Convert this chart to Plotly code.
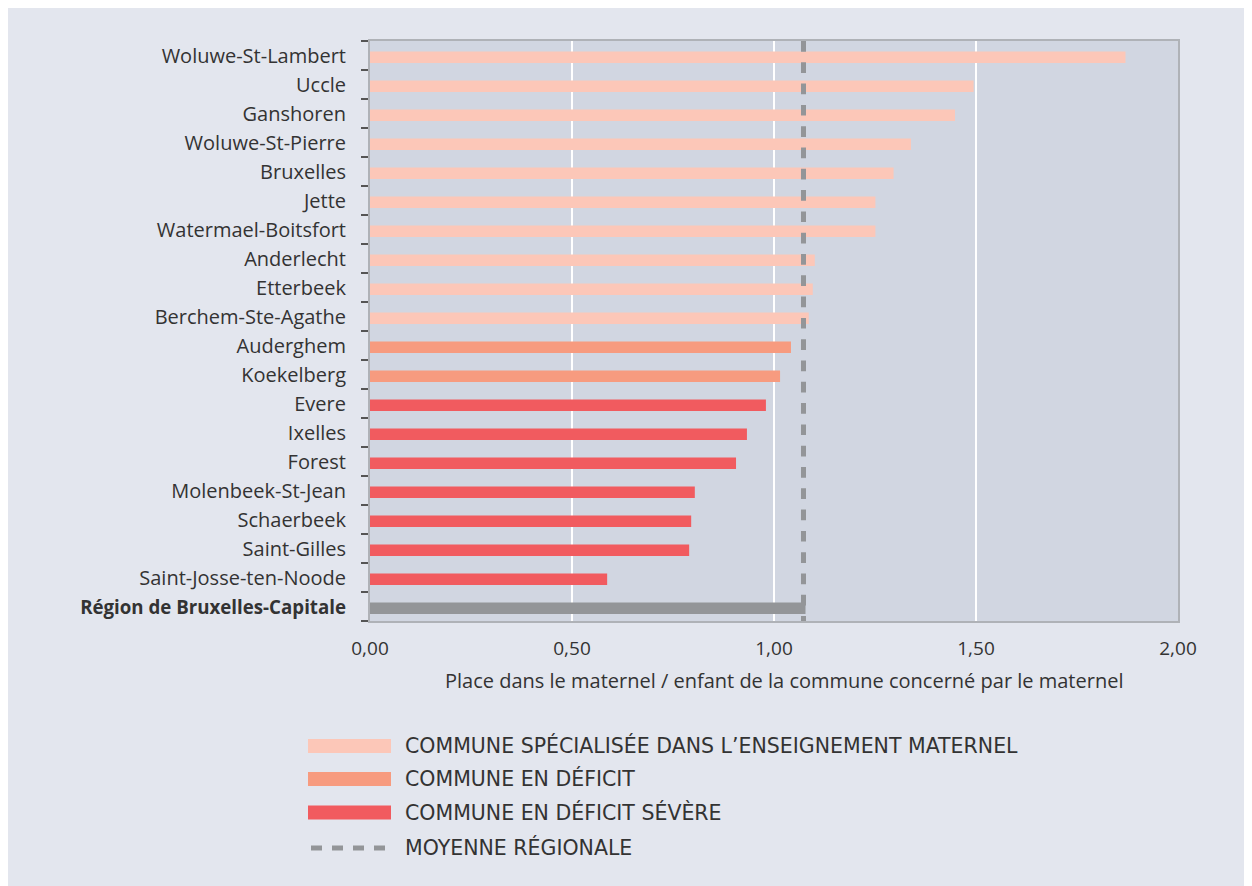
import plotly.graph_objects as go

communes = [
    "Woluwe-St-Lambert", "Uccle", "Ganshoren", "Woluwe-St-Pierre", "Bruxelles",
    "Jette", "Watermael-Boitsfort", "Anderlecht", "Etterbeek", "Berchem-Ste-Agathe",
    "Auderghem", "Koekelberg", "Evere", "Ixelles", "Forest",
    "Molenbeek-St-Jean", "Schaerbeek", "Saint-Gilles", "Saint-Josse-ten-Noode",
]
values = [
    1.870, 1.494, 1.448, 1.339, 1.296,
    1.251, 1.251, 1.101, 1.096, 1.086,
    1.042, 1.015, 0.980, 0.933, 0.906,
    0.804, 0.795, 0.790, 0.587,
]
groups = [
    "spec", "spec", "spec", "spec", "spec",
    "spec", "spec", "spec", "spec", "spec",
    "def", "def", "sev", "sev", "sev",
    "sev", "sev", "sev", "sev",
]
region_label = "Région de Bruxelles-Capitale"
region_value = 1.078
regional_average = 1.073

group_names = {
    "spec": "COMMUNE SPÉCIALISÉE DANS L’ENSEIGNEMENT MATERNEL",
    "def": "COMMUNE EN DÉFICIT",
    "sev": "COMMUNE EN DÉFICIT SÉVÈRE",
}
avg_name = "MOYENNE RÉGIONALE"
group_colors = {"spec": "#fcc7b8", "def": "#f79b7f", "sev": "#f15b5f"}
region_color = "#939598"

x_ticks = [0, 0.5, 1.0, 1.5, 2.0]
x_title = "Place dans le maternel / enfant de la commune concerné par le maternel"

region_cat = '<span style="font-size:18.7px"><b>' + region_label + "</b></span>"
categories = communes + [region_cat]

LABEL_FONT = "Open Sans, Lato, sans-serif"
LEGEND_FONT = "DejaVu Sans, sans-serif"
TEXT_COLOR = "#333333"

fig = go.Figure()
for g in ["spec", "def", "sev"]:
    ys = [c for c, gg in zip(communes, groups) if gg == g]
    xs = [v for v, gg in zip(values, groups) if gg == g]
    fig.add_trace(go.Bar(
        x=xs, y=ys, orientation="h", name=group_names[g],
        marker=dict(color=group_colors[g], line=dict(width=0)),
        width=0.393, offset=-0.134, showlegend=False,
    ))
fig.add_trace(go.Bar(
    x=[region_value], y=[region_cat], orientation="h", name=region_label,
    marker=dict(color=region_color, line=dict(width=0)),
    width=0.393, offset=-0.134, showlegend=False,
))

# regional average dashed line
fig.add_shape(type="line", xref="x", yref="paper", x0=regional_average, x1=regional_average,
              y0=1, y1=0, line=dict(color=region_color, width=5, dash="10.7px,10.6px"),
              layer="above")

# plot geometry in page pixels (for legend placement)
PX_L, PX_R, PX_T, PX_B = 370, 1178, 40.7, 621


def px(xp):
    return (xp - PX_L) / (PX_R - PX_L)


def py(yp):
    return (PX_B - yp) / (PX_B - PX_T)


# manual legend
legend_items = [
    (group_names["spec"], group_colors["spec"], "bar"),
    (group_names["def"], group_colors["def"], "bar"),
    (group_names["sev"], group_colors["sev"], "bar"),
    (avg_name, region_color, "dash"),
]
centers = [746, 779, 812.5, 848]
for (label, color, kind), cy in zip(legend_items, centers):
    if kind == "bar":
        fig.add_shape(type="rect", xref="paper", yref="paper",
                      x0=px(308), x1=px(391), y0=py(cy - 7), y1=py(cy + 7),
                      fillcolor=color, line=dict(width=0))
    else:
        fig.add_shape(type="line", xref="paper", yref="paper",
                      x0=px(311), x1=px(390), y0=py(cy), y1=py(cy),
                      line=dict(color=color, width=5, dash="11px,10px"))
    fig.add_annotation(xref="paper", yref="paper", x=px(403), y=py(cy),
                       xanchor="left", yanchor="middle", showarrow=False,
                       text=label, font=dict(family=LEGEND_FONT, size=20.5, color=TEXT_COLOR))

fig.add_annotation(xref="paper", yref="paper", x=px(784), y=py(681),
                   xanchor="center", yanchor="middle", showarrow=False,
                   text=x_title, font=dict(family=LABEL_FONT, size=20, color=TEXT_COLOR))

fig.update_layout(
    width=1252, height=886,
    margin=dict(l=362, r=82, t=33, b=273),
    paper_bgcolor="#e3e6ee",
    plot_bgcolor="#d1d6e1",
    barmode="overlay",
    separators=", ",
    showlegend=False,
    font=dict(family=LABEL_FONT, color=TEXT_COLOR),
)
fig.update_xaxes(
    range=[0, 2], tickvals=x_ticks, tickformat=".2f",
    showgrid=True, gridcolor="#ffffff", gridwidth=1.5,
    zeroline=False, showline=True, linecolor="#afb2b7", linewidth=2, mirror=True,
    ticks="outside", ticklen=9, tickcolor="rgba(0,0,0,0)",
    tickfont=dict(family=LABEL_FONT, size=19, color=TEXT_COLOR),
    fixedrange=True,
)
fig.update_yaxes(
    categoryorder="array", categoryarray=categories, autorange="reversed",
    type="category", tickvals=categories,
    showgrid=False, showline=True, linecolor="#afb2b7", linewidth=2, mirror=True,
    ticks="outside", tickson="boundaries", ticklen=7, tickcolor="#555555", tickwidth=1.5,
    ticklabelstandoff=18,
    tickfont=dict(family=LABEL_FONT, size=20, color=TEXT_COLOR),
    fixedrange=True,
)

fig.write_html("out.html")
